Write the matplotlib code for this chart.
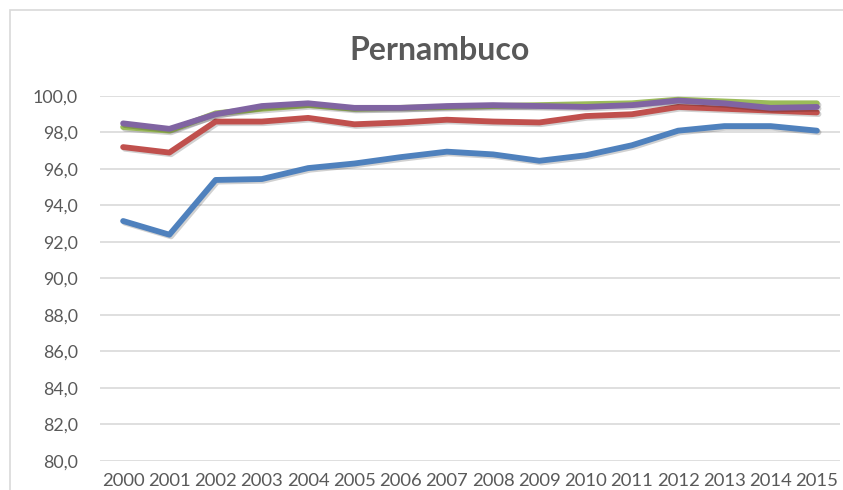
import numpy as np
import matplotlib
matplotlib.use("Agg")
import matplotlib.pyplot as plt
import matplotlib.patheffects as pe
from matplotlib.patches import Rectangle
from matplotlib.ticker import FuncFormatter

plt.rcParams['font.family'] = ['Lato', 'DejaVu Sans']

years = [str(y) for y in range(2000, 2016)]
# values
blue = [93.15, 92.4, 95.4, 95.45, 96.05, 96.3, 96.65, 96.95, 96.8, 96.45, 96.75, 97.3, 98.1, 98.35, 98.35, 98.1]
red = [97.2, 96.9, 98.6, 98.6, 98.8, 98.45, 98.55, 98.7, 98.6, 98.55, 98.9, 99.0, 99.4, 99.3, 99.2, 99.1]
green = [98.3, 98.1, 99.05, 99.3, 99.5, 99.3, 99.35, 99.4, 99.45, 99.5, 99.55, 99.6, 99.8, 99.7, 99.6, 99.6]
purple = [98.5, 98.2, 99.0, 99.45, 99.6, 99.35, 99.35, 99.45, 99.5, 99.45, 99.4, 99.5, 99.75, 99.6, 99.35, 99.4]

series = [(blue, '#4F81BD'), (red, '#C0504D'), (green, '#9BBB59'), (purple, '#8064A2')]

fig = plt.figure(figsize=(8.43, 4.9), dpi=100)
ax = fig.add_axes([100 / 843, 1 - 461 / 490, 740 / 843, 365 / 490])

# chart border (cropped at right/bottom)
fig.patches.append(Rectangle((10 / 843, -0.1), 1.2, 1 - 10 / 490 + 0.1, transform=fig.transFigure,
                             fill=False, edgecolor='#d9d9d9', linewidth=1.2))

x = np.arange(len(years))
shadow = [pe.SimpleLineShadow(offset=(1.2, -1.2), shadow_color='#000000', alpha=0.18), pe.Normal()]
for vals, c in series:
    ax.plot(x, vals, color=c, linewidth=4.2, solid_capstyle='round', solid_joinstyle='round',
            path_effects=shadow)

ax.set_xlim(-0.5, len(years) - 0.5)
ax.set_ylim(80, 100)
ax.set_yticks(np.arange(80, 101, 2))
ax.yaxis.set_major_formatter(FuncFormatter(lambda v, p: ('%.1f' % v).replace('.', ',')))
ax.set_xticks(x)
ax.set_xticklabels(years)
ax.grid(axis='y', color='#d9d9d9', linewidth=1.2)
ax.set_axisbelow(True)
for s in ax.spines.values():
    s.set_visible(False)
ax.tick_params(length=0, colors='#595959')
ax.tick_params(axis='y', pad=16, labelsize=12.8)
ax.tick_params(axis='x', pad=8.5, labelsize=13.3)

fig.text(440 / 843, 1 - 50 / 490, 'Pernambuco', ha='center', va='center',
         fontsize=23, fontweight='bold', color='#595959')

fig.savefig('out.png', dpi=100)
